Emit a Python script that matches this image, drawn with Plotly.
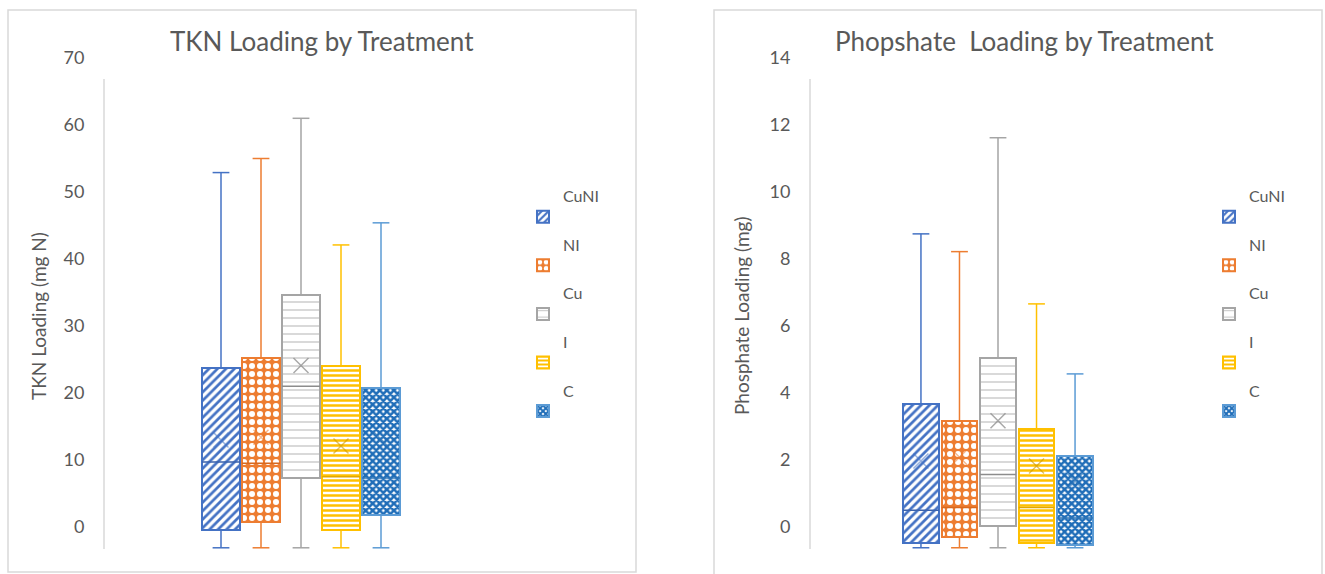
import plotly.graph_objects as go

W, H = 1325, 574

series = ["CuNI", "NI", "Cu", "I", "C"]

# TKN loading (mg N) box statistics
tkn_lower = [-3.1, -3.1, -3.1, -3.1, -3.1]
tkn_q1 = [-0.5, 0.7, 7.3, -0.5, 1.8]
tkn_median = [9.7, 9.5, 21.0, 7.5, 7.3]
tkn_q3 = [23.8, 25.3, 34.6, 24.1, 20.8]
tkn_upper = [52.9, 55.0, 61.0, 42.1, 45.4]
tkn_mean = [13.0, 13.4, 24.1, 12.1, 13.1]

# Phosphate loading (mg) box statistics
p_lower = [-0.62, -0.62, -0.62, -0.62, -0.62]
p_q1 = [-0.49, -0.30, 0.02, -0.49, -0.55]
p_median = [0.50, 0.58, 1.57, 0.58, 0.27]
p_q3 = [3.67, 3.17, 5.03, 2.93, 2.11]
p_upper = [8.75, 8.22, 11.62, 6.66, 4.57]
p_mean = [1.97, 2.08, 3.17, 1.82, 1.37]

colors = ["#4472C4", "#ED7D31", "#A5A5A5", "#FFC000", "#5B9BD5"]
median_colors = ["#3A62AD", "#D8691F", "#8C8C8C", "#E0A800", "#2E75B6"]
mean_colors = ["rgba(68,114,196,0.55)", "rgba(237,125,49,0.55)", "rgba(140,140,140,0.75)",
               "rgba(200,150,0,0.6)", "rgba(46,117,182,0.6)"]
patterns = [
    dict(shape="/", fgcolor="#4472C4", bgcolor="white", size=6, solidity=0.45, fillmode="replace"),
    dict(shape=".", fgcolor="white", bgcolor="#ED7D31", size=8, solidity=0.45, fillmode="replace"),
    dict(shape="-", fgcolor="#C4C4C4", bgcolor="white", size=8, solidity=0.16, fillmode="replace"),
    dict(shape="-", fgcolor="#FFC000", bgcolor="white", size=5, solidity=0.5, fillmode="replace"),
    dict(shape="x", fgcolor="#1F6DB8", bgcolor="white", size=5, solidity=0.75, fillmode="replace"),
]

TXT = "#595959"
FONT = "Lato"

fig = go.Figure()

panels = [
    dict(xa="x", ya="y", leg="legend", lower=tkn_lower, q1=tkn_q1, med=tkn_median,
         q3=tkn_q3, upper=tkn_upper, mean=tkn_mean, width=0.95),
    dict(xa="x2", ya="y2", leg="legend2", lower=p_lower, q1=p_q1, med=p_median,
         q3=p_q3, upper=p_upper, mean=p_mean, width=0.93),
]

for p in panels:
    w2 = p["width"] / 2
    for j, s in enumerate(series):
        fig.add_trace(go.Bar(
            x=[j], base=[p["q1"][j]], y=[p["q3"][j] - p["q1"][j]], width=p["width"],
            name=s + "<br> ", legend=p["leg"], legendgroup=p["leg"] + s,
            marker=dict(color=patterns[j]["bgcolor"], pattern=patterns[j],
                        line=dict(color=colors[j], width=2)),
            xaxis=p["xa"], yaxis=p["ya"], hoverinfo="skip",
        ))
    for j, s in enumerate(series):
        c = colors[j]
        # whiskers
        fig.add_trace(go.Scatter(
            x=[j, j, None, j, j],
            y=[p["q3"][j], p["upper"][j], None, p["q1"][j], p["lower"][j]],
            mode="lines", line=dict(color=c, width=1.5), showlegend=False,
            xaxis=p["xa"], yaxis=p["ya"], hoverinfo="skip",
        ))
        # whisker caps
        fig.add_trace(go.Scatter(
            x=[j, j], y=[p["upper"][j], p["lower"][j]], mode="markers",
            marker=dict(symbol="line-ew", size=12, line=dict(color=c, width=1.5)),
            showlegend=False, xaxis=p["xa"], yaxis=p["ya"], hoverinfo="skip",
        ))
        # median line across the box
        fig.add_trace(go.Scatter(
            x=[j - w2, j + w2], y=[p["med"][j], p["med"][j]], mode="lines",
            line=dict(color=median_colors[j], width=1.5),
            showlegend=False, xaxis=p["xa"], yaxis=p["ya"], hoverinfo="skip",
        ))
        # mean marker
        fig.add_trace(go.Scatter(
            x=[j], y=[p["mean"][j]], mode="markers",
            marker=dict(symbol="x-thin", size=15, line=dict(color=mean_colors[j], width=1.5)),
            showlegend=False, xaxis=p["xa"], yaxis=p["ya"], hoverinfo="skip",
        ))

ydom = [1 - 549 / H, 1 - 58 / H]
axis_common = dict(showgrid=False, zeroline=False, showline=False)
ytick_common = dict(ticks="outside", ticklen=15, tickcolor="rgba(0,0,0,0)",
                    tickfont=dict(family=FONT, size=18, color=TXT))
legend_common = dict(xanchor="left", yanchor="top", valign="bottom",
                     font=dict(family=FONT, size=16, color=TXT), bgcolor="rgba(0,0,0,0)",
                     traceorder="grouped", tracegroupgap=4)

fig.update_layout(
    width=W, height=H, margin=dict(l=0, r=0, t=0, b=0, autoexpand=False),
    paper_bgcolor="white", plot_bgcolor="white",
    barmode="overlay", bargap=0,
    font=dict(family=FONT, color=TXT),
    xaxis=dict(domain=[104 / W, 498 / W], range=[-2.925, 6.925], showticklabels=False,
               ticks="", **axis_common),
    xaxis2=dict(domain=[810 / W, 1186 / W], range=[-2.88, 6.88], showticklabels=False,
                ticks="", **axis_common),
    yaxis=dict(domain=ydom, range=[-3.28, 70], tickvals=[0, 10, 20, 30, 40, 50, 60, 70],
               anchor="x", automargin=False, **axis_common, **ytick_common),
    yaxis2=dict(domain=ydom, range=[-0.657, 14], tickvals=[0, 2, 4, 6, 8, 10, 12, 14],
                anchor="x2", automargin=False, **axis_common, **ytick_common),
    legend=dict(x=523 / W, y=1 - 179 / H, **legend_common),
    legend2=dict(x=1209 / W, y=1 - 179 / H, **legend_common),
    annotations=[
        dict(text="TKN Loading by Treatment", x=322 / W, y=1 - 41 / H, xref="paper", yref="paper",
             showarrow=False, xanchor="center", yanchor="middle",
             font=dict(family=FONT, size=26, color=TXT)),
        dict(text="Phopshate  Loading by Treatment", x=1024 / W, y=1 - 41 / H, xref="paper",
             yref="paper", showarrow=False, xanchor="center", yanchor="middle",
             font=dict(family=FONT, size=26, color=TXT)),
        dict(text="TKN Loading (mg N)", x=38 / W, y=1 - 316 / H, xref="paper", yref="paper",
             showarrow=False, textangle=-90, xanchor="center", yanchor="middle",
             font=dict(family=FONT, size=19, color=TXT)),
        dict(text="Phosphate Loading (mg)", x=741 / W, y=1 - 316 / H, xref="paper", yref="paper",
             showarrow=False, textangle=-90, xanchor="center", yanchor="middle",
             font=dict(family=FONT, size=19, color=TXT)),
    ],
    shapes=[
        dict(type="rect", xref="paper", yref="paper", x0=8 / W, x1=636 / W,
             y0=1 - 572 / H, y1=1 - 10 / H, line=dict(color="#D9D9D9", width=1.5)),
        dict(type="rect", xref="paper", yref="paper", x0=714 / W, x1=1322 / W,
             y0=-0.05, y1=1 - 10 / H, line=dict(color="#D9D9D9", width=1.5)),
        dict(type="line", xref="x domain", yref="y domain", x0=0, x1=0,
             y0=0, y1=(549 - 79) / 491, line=dict(color="#D9D9D9", width=1.5)),
        dict(type="line", xref="x2 domain", yref="y2 domain", x0=0, x1=0,
             y0=0, y1=(549 - 79) / 491, line=dict(color="#D9D9D9", width=1.5)),
    ],
)

fig.write_html("out.html")
